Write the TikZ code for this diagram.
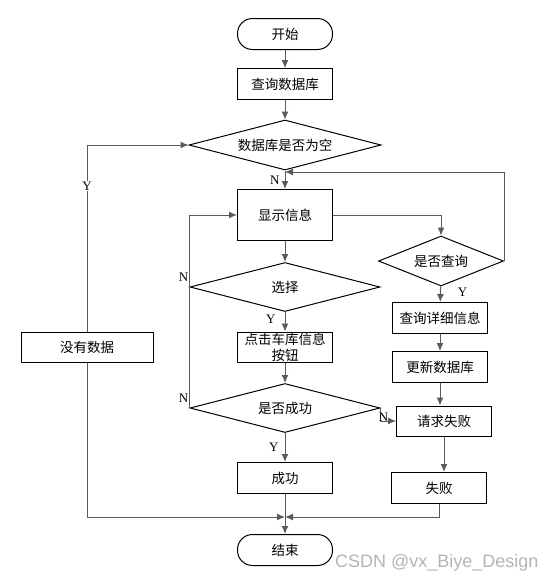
\documentclass[tikz,border=0pt]{standalone}
\usepackage{xcolor}
\usepackage{fontspec}
\setmainfont{Liberation Serif}
\newfontfamily\cjk{Noto Sans CJK SC}
\newfontfamily\marksans{Liberation Sans}
\usepackage{tikz}
\usetikzlibrary{positioning, arrows.meta, shapes.geometric}
\definecolor{linegray}{HTML}{5A5A5A}
\definecolor{markgray}{HTML}{B4B4B4}

\tikzset{
  flowbox/.style={draw=black, line width=1pt, minimum width=95pt, minimum height=31pt,
                  inner sep=0pt, align=center, font=\cjk\fontsize{13.5}{16}\selectfont},
  terminal/.style={flowbox, rounded corners=15pt},
  decision/.style={draw=black, line width=1pt, diamond, inner sep=0pt, aspect=3.88,
                   minimum width=190pt, minimum height=49pt, font=\cjk\fontsize{13.5}{16}\selectfont},
  flow/.style={draw=linegray, line width=1pt, -{Latex[length=8pt,width=7pt]}},
  plain/.style={draw=linegray, line width=1pt},
  yn/.style={font=\fontsize{13}{15}\selectfont, inner sep=1pt}
}

\begin{document}
\begin{tikzpicture}[x=1pt, y=1pt]
  \useasboundingbox (0,0) rectangle (556,-582);

  % main column
  \node[terminal] (start) at (285,-34) {开始};
  \node[flowbox] (query) at (285,-84) {查询数据库};
  \node[decision, aspect=3.84, minimum width=192pt, minimum height=50pt] (empty) at (285,-145) {数据库是否为空};
  \node[flowbox, minimum height=51pt] (show) at (285,-215) {显示信息};
  \node[decision] (choose) at (285,-287) {选择};
  \node[flowbox, minimum height=30pt] (click) at (285,-347) {点击车库信息\\按钮};
  \node[decision] (done) at (285,-408) {是否成功};
  \node[flowbox] (success) at (285,-478) {成功};
  \node[terminal] (end) at (285,-550) {结束};

  % right column
  \node[decision, aspect=2.5, minimum width=125pt, minimum height=50pt] (ask) at (441,-261) {是否查询};
  \node[flowbox] (detail) at (440,-318) {查询详细信息};
  \node[flowbox] (update) at (440,-367) {更新数据库};
  \node[flowbox, minimum height=30pt] (reqfail) at (444,-421) {请求失败};
  \node[flowbox] (fail) at (439,-488) {失败};

  % left column
  \node[flowbox, minimum width=132pt, minimum height=30pt] (nodata) at (87,-347) {没有数据};

  \coordinate (back) at (285,-172);
  \coordinate (join) at (285,-517);

  % connectors
  \draw[flow] (start) -- (query);
  \draw[flow] (query) -- (empty);
  \draw[flow] (empty) -- node[yn, left, pos=0.5, xshift=-4pt] {N} (show);
  \draw[flow] (show.east) -| (ask.north);
  \draw[flow] (ask.east) |- (back);
  \draw[flow] (ask) -- node[yn, right, pos=0.4, xshift=16pt] {Y} (detail);
  \draw[flow] (detail) -- (update);
  \draw[flow] (update.south) -- (update.south |- reqfail.north);
  \draw[flow] (reqfail.south) -- (reqfail.south |- fail.north);
  \draw[flow] (fail.south) |- (join);

  \draw[flow] (show) -- (choose);
  \draw[flow] (choose) -- node[yn, left, pos=0.35, xshift=-8pt] {Y} (click);
  \draw[flow] (click) -- (done);
  \draw[flow] (done) -- node[yn, left, pos=0.5, xshift=-5pt] {Y} (success);
  \draw[flow] (success) -- (end);
  \draw[flow] (done.east) |- node[yn, pos=0.6, above=-2pt] {N} (reqfail.west);

  \draw[flow] (choose.west) |- (show.west);
  \node[yn, above left=4pt and 0pt of choose.west] (nchoose) {N};
  \draw[plain] (done.west) -- (done.west |- choose.west);
  \node[yn, above left=4pt and 0pt of done.west] (ndone) {N};

  \draw[flow] (nodata.north) |- node[yn, pos=0.39, fill=white] {Y} (empty.west);
  \draw[flow] (nodata.south) |- (join);

  \node[font=\marksans\fontsize{18}{20}\selectfont, text=markgray, anchor=east] (mark) at (542,-563) {CSDN @vx\_Biye\_Design};
\end{tikzpicture}
\end{document}
